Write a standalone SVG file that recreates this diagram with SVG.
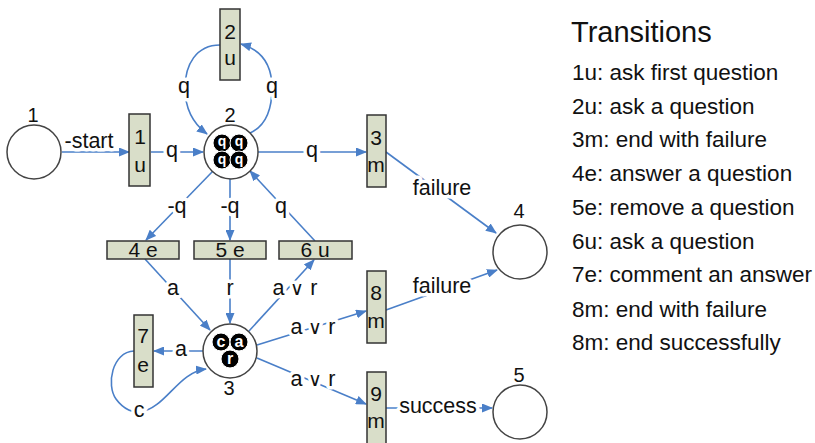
<svg xmlns="http://www.w3.org/2000/svg" width="815" height="443" viewBox="0 0 815 443">
<defs>
<marker id="ah" markerWidth="11" markerHeight="9" refX="10" refY="4.5" orient="auto" markerUnits="userSpaceOnUse">
<path d="M0,0 L11,4.5 L0,9 Z" fill="#4a7fc8"/>
</marker>
<style>
text{font-family:"Liberation Sans",Arial,sans-serif;fill:#111}
.c{stroke:#4a7fc8;stroke-width:1.6;fill:none;marker-end:url(#ah)}
.lb{font-size:21.5px;text-anchor:middle;dominant-baseline:central;stroke:#fff;stroke-width:7;paint-order:stroke;stroke-linejoin:round}
.v{font-size:19px}
.t{fill:#d9dec9;stroke:#333;stroke-width:1.5}
.p{fill:#fff;stroke:#444;stroke-width:1.5}
.tt{font-size:21px;text-anchor:middle}
.pl{font-size:20px;text-anchor:middle}
.tok{fill:#000;stroke:#fff;stroke-width:1}
.tk{font-size:14px;text-anchor:middle;dominant-baseline:central;fill:#fff;font-weight:bold}
.lg{font-size:22.5px}
</style>
</defs>
<rect width="815" height="443" fill="#fff"/>

<g id="connectors">
<path class="c" d="M62,152 L129,152"/>
<path class="c" d="M151,152 L203,152"/>
<path class="c" d="M220,45 C196,45 185,65 185,88 C185,110 195,125 207,134"/>
<path class="c" d="M250,133 C268,125 272,105 272,88 C272,66 262,50 241,44"/>
<path class="c" d="M258,152 L366,152"/>
<path class="c" d="M386,152 L496,233"/>
<path class="c" d="M213,171 L146,240"/>
<path class="c" d="M230,179 L230,240"/>
<path class="c" d="M315,241 L250,171"/>
<path class="c" d="M145,259 L210,330"/>
<path class="c" d="M230,259 L230,323"/>
<path class="c" d="M249,331 L314,260"/>
<path class="c" d="M203,351 L154,351"/>
<path class="c" d="M134,351 C112,352 106,385 116,399 C124,410 134,413 140,412 C166,408 178,372 206,369"/>
<path class="c" d="M257,345 L366,311"/>
<path class="c" d="M386,310 L497,270"/>
<path class="c" d="M257,358 L366,404"/>
<path class="c" d="M386,408 L492,408"/>
<text class="lb" x="89" y="141">-start</text>
<text class="lb" x="172" y="150">q</text>
<text class="lb" x="184" y="86">q</text>
<text class="lb" x="272" y="86">q</text>
<text class="lb" x="312" y="150">q</text>
<text class="lb" x="442" y="188">failure</text>
<text class="lb" x="177" y="206">-q</text>
<text class="lb" x="230" y="206">-q</text>
<text class="lb" x="281" y="206">q</text>
<text class="lb" x="173" y="288">a</text>
<text class="lb" x="230" y="288">r</text>
<text class="lb" x="295" y="288">a <tspan class="v">∨</tspan> r</text>
<text class="lb" x="181" y="349">a</text>
<text class="lb" x="139" y="410">c</text>
<text class="lb" x="313" y="327">a <tspan class="v">∨</tspan> r</text>
<text class="lb" x="442" y="286">failure</text>
<text class="lb" x="313" y="379">a <tspan class="v">∨</tspan> r</text>
<text class="lb" x="438" y="406">success</text>
</g>

<g id="place1">
<circle class="p" cx="34" cy="152" r="27"/>
<text class="pl" x="33" y="122">1</text>
</g>
<g id="place2">
<circle class="p" cx="231" cy="152" r="27"/>
<text class="pl" x="230" y="122">2</text>
<circle class="tok" cx="222" cy="143" r="9"/>
<circle class="tok" cx="239" cy="143" r="9"/>
<circle class="tok" cx="222" cy="160" r="9"/>
<circle class="tok" cx="239" cy="160" r="9"/>
<text class="tk" x="222" y="141">q</text>
<text class="tk" x="239" y="141">q</text>
<text class="tk" x="222" y="159">q</text>
<text class="tk" x="239" y="159">q</text>
</g>
<g id="place3">
<circle class="p" cx="230" cy="351" r="27"/>
<text class="pl" x="229" y="395">3</text>
<circle class="tok" cx="221" cy="342" r="9"/>
<circle class="tok" cx="239" cy="342" r="9"/>
<circle class="tok" cx="230" cy="359" r="9"/>
<text class="tk" x="221" y="341" style="font-size:16px">c</text>
<text class="tk" x="239" y="341" style="font-size:16px">a</text>
<text class="tk" x="230" y="358" style="font-size:16px">r</text>
</g>
<g id="place4">
<circle class="p" cx="520" cy="252" r="27"/>
<text class="pl" x="519" y="218">4</text>
</g>
<g id="place5">
<circle class="p" cx="520" cy="412" r="27"/>
<text class="pl" x="519" y="382">5</text>
</g>

<g id="t1u">
<rect class="t" x="129" y="114" width="21" height="72"/>
<text class="tt" x="140" y="144">1</text>
<text class="tt" x="140" y="172">u</text>
</g>
<g id="t2u">
<rect class="t" x="220" y="9" width="20" height="71"/>
<text class="tt" x="230" y="39">2</text>
<text class="tt" x="230" y="65">u</text>
</g>
<g id="t3m">
<rect class="t" x="367" y="115" width="19" height="72"/>
<text class="tt" x="376" y="145">3</text>
<text class="tt" x="376" y="172">m</text>
</g>
<g id="t4e">
<rect class="t" x="107" y="241" width="72" height="18"/>
<text class="tt" x="143" y="257">4 e</text>
</g>
<g id="t5e">
<rect class="t" x="194" y="241" width="72" height="18"/>
<text class="tt" x="230" y="257">5 e</text>
</g>
<g id="t6u">
<rect class="t" x="279" y="241" width="73" height="18"/>
<text class="tt" x="315" y="257">6 u</text>
</g>
<g id="t7e">
<rect class="t" x="134" y="315" width="19" height="72"/>
<text class="tt" x="143" y="343">7</text>
<text class="tt" x="143" y="372">e</text>
</g>
<g id="t8m">
<rect class="t" x="367" y="271" width="19" height="72"/>
<text class="tt" x="376" y="300">8</text>
<text class="tt" x="376" y="328">m</text>
</g>
<g id="t9m">
<rect class="t" x="367" y="372" width="19" height="80"/>
<text class="tt" x="376" y="401">9</text>
<text class="tt" x="376" y="428">m</text>
</g>

<g id="legend">
<text x="571" y="42" style="font-size:29px">Transitions</text>
<text class="lg" x="572" y="80">1u: ask first question</text>
<text class="lg" x="572" y="114">2u: ask a question</text>
<text class="lg" x="572" y="147">3m: end with failure</text>
<text class="lg" x="572" y="181">4e: answer a question</text>
<text class="lg" x="572" y="215">5e: remove a question</text>
<text class="lg" x="572" y="249">6u: ask a question</text>
<text class="lg" x="572" y="282">7e: comment an answer</text>
<text class="lg" x="572" y="317">8m: end with failure</text>
<text class="lg" x="572" y="350">8m: end successfully</text>
</g>
</svg>
